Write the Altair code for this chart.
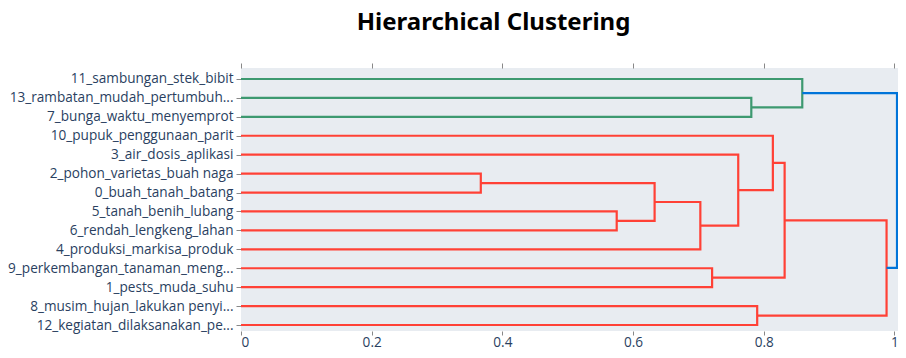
import altair as alt
import pandas as pd

# Leaves, listed top to bottom as drawn
leaves = [
    "11_sambungan_stek_bibit",
    "13_rambatan_mudah_pertumbuh...",
    "7_bunga_waktu_menyemprot",
    "10_pupuk_penggunaan_parit",
    "3_air_dosis_aplikasi",
    "2_pohon_varietas_buah naga",
    "0_buah_tanah_batang",
    "5_tanah_benih_lubang",
    "6_rendah_lengkeng_lahan",
    "4_produksi_markisa_produk",
    "9_perkembangan_tanaman_meng...",
    "1_pests_muda_suhu",
    "8_musim_hujan_lakukan penyi...",
    "12_kegiatan_dilaksanakan_pe...",
]

# Merges: id, first child, second child, distance, cluster colour
merge_ids = ["A", "B", "C", "D", "E", "F", "G", "H", "I", "J", "K", "L", "R"]
merge_a = ["2_pohon_varietas_buah naga", "5_tanah_benih_lubang", "A", "C", "3_air_dosis_aplikasi",
           "10_pupuk_penggunaan_parit", "9_perkembangan_tanaman_meng...", "F",
           "8_musim_hujan_lakukan penyi...", "H", "13_rambatan_mudah_pertumbuh...",
           "11_sambungan_stek_bibit", "L"]
merge_b = ["0_buah_tanah_batang", "6_rendah_lengkeng_lahan", "B", "4_produksi_markisa_produk", "D",
           "E", "1_pests_muda_suhu", "G", "12_kegiatan_dilaksanakan_pe...", "I",
           "7_bunga_waktu_menyemprot", "K", "J"]
merge_h = [0.367, 0.575, 0.633, 0.703, 0.761, 0.814, 0.721, 0.832, 0.790, 0.988, 0.781, 0.859, 1.004]
merge_c = ["red", "red", "red", "red", "red", "red", "red", "red", "red", "red", "green", "green", "blue"]

color_names = ["green", "red", "blue"]
color_values = ["#3D9970", "#FF4136", "#0074D9"]
x_ticks = [0, 0.2, 0.4, 0.6, 0.8, 1]

n = len(leaves)
node_y = {name: 5 + 10 * (n - 1 - i) for i, name in enumerate(leaves)}
node_h = {name: 0.0 for name in leaves}
rows = []
for mid, a, b, h, c in zip(merge_ids, merge_a, merge_b, merge_h, merge_c):
    ya, yb = node_y[a], node_y[b]
    pts = [(node_h[a], ya), (h, ya), (h, yb), (node_h[b], yb)]
    for k, (px, py) in enumerate(pts):
        rows.append({"link": mid, "k": k, "x": px, "y": py, "c": c})
    node_y[mid] = (ya + yb) / 2
    node_h[mid] = h
df = pd.DataFrame(rows)

tick_vals = [5 + 10 * i for i in range(n)]
label_arr = "[" + ",".join("'" + s + "'" for s in reversed(leaves)) + "]"

W = 657
H = 263
xscale = alt.Scale(domain=[0, W / 653.4], nice=False, zero=False)
yscale = alt.Scale(domain=[1.83, 140.8], nice=False, zero=False)
yaxis = alt.Axis(values=tick_vals, labelExpr=label_arr + "[round((datum.value-5)/10)]",
                 tickSize=5, labelPadding=3, labelLimit=0, grid=False, domain=False)

lines = alt.Chart(df).mark_line(strokeWidth=2.2, clip=True, strokeJoin="miter").encode(
    x=alt.X("x:Q", scale=xscale, title=None,
            axis=alt.Axis(values=x_ticks, format="~g", orient="bottom", tickSize=4,
                          labelBaseline="alphabetic", labelPadding=11,
                          grid=False, domain=False)),
    y=alt.Y("y:Q", scale=yscale, title=None, axis=yaxis),
    detail="link:N",
    order="k:O",
    color=alt.Color("c:N", scale=alt.Scale(domain=color_names, range=color_values), legend=None),
)

top_axis = alt.Chart(df).mark_point(opacity=0).encode(
    x=alt.X("x:Q", scale=xscale, title=None,
            axis=alt.Axis(values=x_ticks, labels=False, orient="top", tickSize=5,
                          grid=False, domain=False)),
    y=alt.Y("y:Q", scale=yscale, title=None, axis=yaxis),
)

chart = alt.layer(lines, top_axis).resolve_axis(x="independent").properties(
    width=W,
    height=H,
    background="white",
    autosize=alt.AutoSizeParams(type="none"),
    padding={"left": 233, "top": 60, "right": 0, "bottom": 19},
    title=alt.TitleParams("Hierarchical Clustering", font="Noto Sans", fontSize=24,
                          fontWeight="bold", color="black", anchor="middle",
                          dx=-76, offset=9, baseline="alphabetic"),
).configure_view(fill="#E8ECF1", strokeWidth=0).configure_axis(
    labelFont="Open Sans", labelFontSize=13.6, labelColor="#2a3f5f", tickColor="#888",
)

chart.save("out.html", embed_options={"renderer": "svg", "actions": False})
